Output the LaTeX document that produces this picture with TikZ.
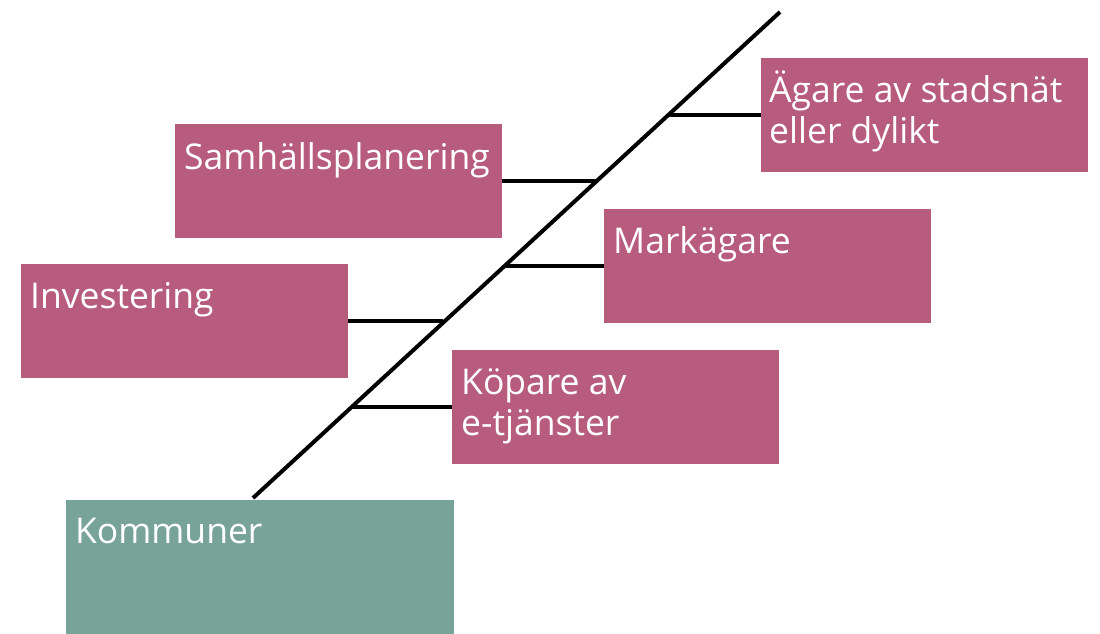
\documentclass[tikz,border=0pt]{standalone}
\usepackage{fontspec}
\setmainfont{Open Sans}
\usetikzlibrary{calc}
\definecolor{pinkbox}{HTML}{B75C7D}
\definecolor{greenbox}{HTML}{78A398}
\begin{document}
\begin{tikzpicture}[x=1pt,y=-1pt,
  box/.style={fill=pinkbox, draw=none, anchor=north west, inner sep=0pt, minimum width=327pt, minimum height=114pt},
  gbox/.style={fill=greenbox, draw=none, anchor=north west, inner sep=0pt, minimum width=388pt, minimum height=134pt},
  lbl/.style={text=white, anchor=base west, inner sep=0pt, font=\fontsize{35.5}{43}\selectfont, align=left},
  link/.style={line width=4pt, black}]
\useasboundingbox (0,0) rectangle (1100,634);
\coordinate (s0) at (253,498);
\coordinate (s1) at (780,12);
\draw[link] (s0) -- (s1);
\coordinate (pA) at ($(s0)!0.788!(s1)$);
\coordinate (pS) at ($(s0)!0.650!(s1)$);
\coordinate (pM) at ($(s0)!0.4794!(s1)$);
\coordinate (pI) at ($(s0)!0.3601!(s1)$);
\coordinate (pK) at ($(s0)!0.1872!(s1)$);

\node[gbox] (kom) at (66,500) {};
\node[box] (aga) at (761,58) {};
\node[box] (sam) at (175,124) {};
\node[box] (mar) at (604,209) {};
\node[box] (inv) at (21,264) {};
\node[box] (kop) at (452,350) {};

\node[lbl] (tkom) at ($(kom.north west)+(9,43)$) {Kommuner};
\node[lbl] (taga) at ($(aga.north west)+(8,44)$) {Ägare av stadsnät};
\node[lbl] (taga2) at ($(aga.north west)+(8,85)$) {eller dylikt};
\node[lbl] (tsam) at ($(sam.north west)+(9,45)$) {Samhällsplanering};
\node[lbl] (tmar) at ($(mar.north west)+(9,44)$) {Markägare};
\node[lbl] (tinv) at ($(inv.north west)+(9,44)$) {Investering};
\node[lbl] (tkop) at ($(kop.north west)+(9,44)$) {Köpare av};
\node[lbl] (tkop2) at ($(kop.north west)+(9,85)$) {e-tjänster};

\draw[link] (aga.west -| pA) -- (aga.west);
\draw[link] (sam.east) -- (sam.east -| pS);
\draw[link] (mar.west -| pM) -- (mar.west);
\draw[link] (inv.east) -- (inv.east -| pI);
\draw[link] (kop.west -| pK) -- (kop.west);
\end{tikzpicture}
\end{document}
